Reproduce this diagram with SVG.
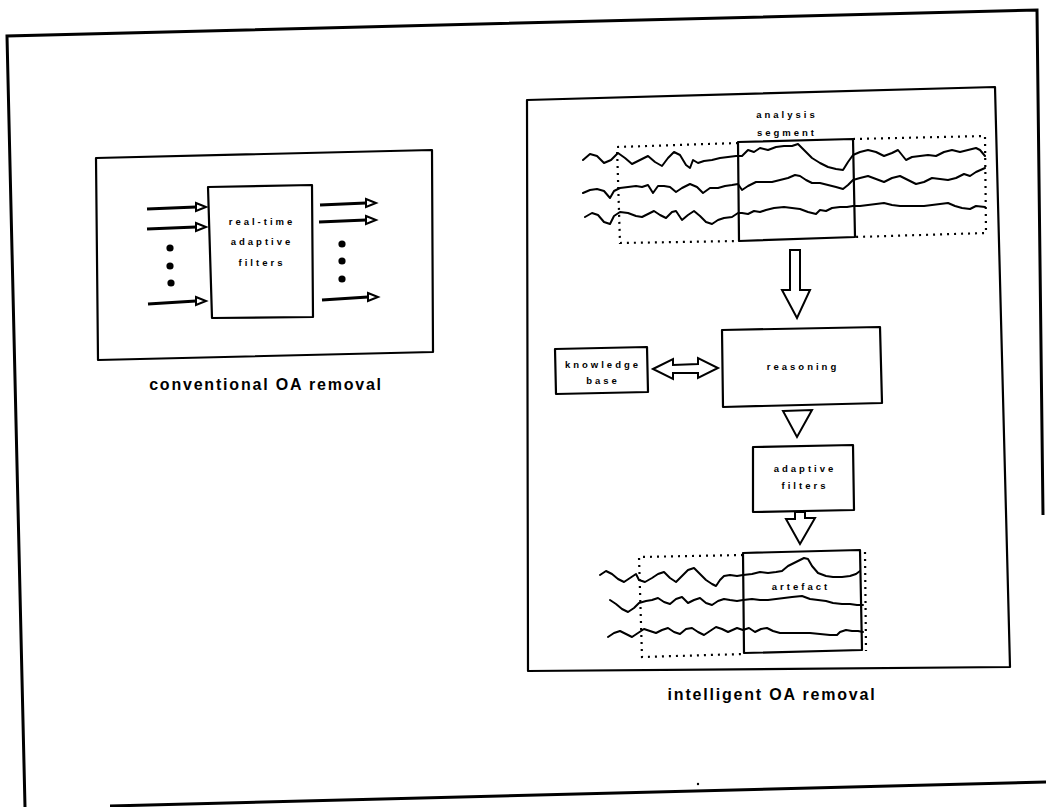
<svg xmlns="http://www.w3.org/2000/svg" width="1046" height="807" viewBox="0 0 1046 807">
<defs>
<style>
.ln{fill:none;stroke:#000;stroke-width:2.2;stroke-linejoin:round;stroke-linecap:round}
.box{fill:#fff;stroke:#000;stroke-width:2.2;stroke-linejoin:round}
.frame{fill:none;stroke:#000;stroke-width:3}
.dot{fill:none;stroke:#000;stroke-width:2.2;stroke-dasharray:2 5}
.wave{fill:none;stroke:#000;stroke-width:2;stroke-linejoin:round;stroke-linecap:round}
.hollow{fill:#fff;stroke:#000;stroke-width:2;stroke-linejoin:miter}
.shaft{fill:none;stroke:#000;stroke-width:3.2}
.t{font-family:"Liberation Sans",Arial,sans-serif;font-weight:bold;font-size:9.5px;letter-spacing:3px;text-anchor:middle;fill:#000}
.cap{font-family:"Liberation Sans",Arial,sans-serif;font-weight:bold;font-size:16px;letter-spacing:1.8px;text-anchor:middle;fill:#000}
</style>
</defs>
<rect width="1046" height="807" fill="#fff"/>

<g id="frame">
<path class="frame" d="M25,807 L7,36 L1037,10 L1043,515"/>
<path class="frame" d="M110,806 L1046,782"/>
</g>

<g id="conventional">
<polygon class="box" points="96,158 432,150 433,352 98,360"/>
<g id="filters-rt">
<polygon class="box" points="208,187 312,185 313,317 212,318"/>
<text class="t" x="262" y="225">real-time</text>
<text class="t" x="262" y="245">adaptive</text>
<text class="t" x="262" y="266">filters</text>
</g>
<g id="dots-left">
<circle cx="170" cy="248" r="3.6"/><circle cx="170" cy="266" r="3.6"/><circle cx="171" cy="283" r="3.6"/>
</g>
<g id="dots-right">
<circle cx="342" cy="244" r="3.6"/><circle cx="342" cy="261" r="3.6"/><circle cx="342" cy="279" r="3.6"/>
</g>
<text class="cap" x="266" y="390">conventional OA removal</text>
</g>

<g id="intelligent">
<polygon class="box" points="527,100 995,87 1010,667 528,671"/>
<g id="analysis">
<text class="t" x="787" y="118">analysis</text>
<text class="t" x="787" y="136">segment</text>
<polygon class="ln" points="738,142 853,139 855,237 739,241"/>
<path class="dot" d="M738,143 L617,147 L620,243 L739,241"/>
<path class="dot" d="M853,139 L985,136 L986,233 L855,237"/>
<polyline class="wave" points="583,160 590,154 597,156 604,163 611,160 618,153 625,158 632,164 640,160 648,156 655,162 662,166 668,158 674,152 680,155 686,165 690,168 693,160 698,163 704,161 712,160 720,158 728,157 736,156 742,156 748,150 754,152 760,148 768,150 776,147 784,146 792,146 798,144 804,150 812,158 820,163 828,167 836,169 843,170 848,162 853,155 860,152 868,150 876,152 884,156 892,153 898,150 902,155 906,160 912,157 920,156 928,155 936,156 944,152 952,150 960,152 968,150 976,148 980,150 985,156"/>
<polyline class="wave" points="583,193 590,190 597,189 604,191 610,198 614,191 620,188 628,187 636,186 642,187 648,185 653,193 658,186 664,186 670,187 676,192 682,188 690,184 697,187 703,193 710,188 718,188 725,186 732,185 738,184 742,190 748,186 756,182 764,182 772,182 780,180 788,178 795,175 800,176 806,180 812,183 820,183 828,185 836,187 843,189 848,185 853,180 860,178 868,176 876,179 884,182 892,178 900,176 908,180 916,184 924,182 932,178 940,179 948,180 956,178 964,174 970,176 976,172 985,168"/>
<polyline class="wave" points="585,217 592,213 598,215 604,222 610,224 614,216 620,212 628,213 636,216 642,217 648,214 654,211 660,215 666,218 672,212 676,211 682,220 688,215 694,211 700,216 706,222 712,224 718,220 724,218 732,217 738,213 742,213 748,214 754,211 760,212 766,210 774,208 784,207 792,208 800,209 808,212 816,214 820,210 826,211 832,208 840,207 847,207 853,206 860,206 868,205 876,204 884,203 892,205 900,206 908,206 916,206 924,206 932,205 940,204 948,203 955,206 962,208 970,209 976,206 985,207"/>
</g>
<g id="knowledge">
<polygon class="box" points="555,349 647,347 648,392 556,394"/>
<text class="t" x="603" y="368">knowledge</text>
<text class="t" x="603" y="384">base</text>
</g>
<g id="reasoning">
<polygon class="box" points="722,330 880,327 882,403 723,407"/>
<text class="t" x="803" y="370">reasoning</text>
</g>
<g id="adaptive">
<polygon class="box" points="753,447 853,445 854,510 753,512"/>
<text class="t" x="805" y="472">adaptive</text>
<text class="t" x="805" y="489">filters</text>
</g>
<g id="result">
<polygon class="ln" points="743,553 860,550 862,650 744,653"/>
<path class="dot" d="M743,555 L639,557 L642,657 L744,654"/>
<path class="dot" d="M865,552 L866,651"/>
<text class="t" x="801" y="590">artefact</text>
<polyline class="wave" points="600,575 606,571 612,574 618,579 624,582 630,578 636,574 639,580 645,582 652,578 658,574 664,572 670,578 676,582 682,576 688,570 694,568 700,574 706,580 712,584 716,586 720,580 724,576 730,575 737,576 743,575 752,574 760,572 768,573 776,572 782,571 788,566 796,562 804,558 808,559 812,566 818,573 826,576 833,577 842,577 850,576 856,574 860,571"/>
<polyline class="wave" points="610,600 616,604 622,609 628,612 634,608 639,603 646,601 652,600 658,598 664,602 670,604 676,599 682,597 688,603 694,600 700,598 706,603 712,605 718,601 724,599 730,600 737,601 743,600 752,599 760,600 768,600 776,599 784,598 792,597 802,596 810,599 818,600 826,601 833,603 842,604 850,604 857,605 863,605"/>
<polyline class="wave" points="608,637 614,633 620,631 626,634 632,637 638,633 644,629 650,631 656,633 662,630 668,628 674,632 680,634 686,629 692,628 698,632 704,635 710,631 716,627 722,629 728,632 737,628 743,630 749,628 755,632 761,629 767,628 773,631 780,633 790,633 800,633 810,633 820,634 830,635 837,635 840,632 846,630 852,631 858,631 863,632"/>
</g>
<text class="cap" x="772" y="700">intelligent OA removal</text>
</g>

<g id="connectors">
<line class="shaft" x1="147" y1="209" x2="196" y2="207"/>
<path class="hollow" d="M196,203 L206,207 L196,211 Z"/>
<line class="shaft" x1="147" y1="229" x2="196" y2="227"/>
<path class="hollow" d="M196,223 L206,227 L196,231 Z"/>
<line class="shaft" x1="148" y1="304" x2="196" y2="301"/>
<path class="hollow" d="M196,297 L206,301 L196,305 Z"/>
<line class="shaft" x1="320" y1="205" x2="366" y2="203"/>
<path class="hollow" d="M366,199 L376,203 L366,207 Z"/>
<line class="shaft" x1="319" y1="222" x2="366" y2="220"/>
<path class="hollow" d="M366,216 L376,220 L366,224 Z"/>
<line class="shaft" x1="322" y1="300" x2="368" y2="297"/>
<path class="hollow" d="M368,293 L378,297 L368,301 Z"/>
<path class="hollow" d="M790,250 L800,250 L800,290 L810,290 L797,318 L782,290 L790,290 Z"/>
<path class="hollow" d="M653,369 L673,359 L673,365 L698,364 L698,358 L718,368 L698,378 L698,373 L673,373 L673,379 Z"/>
<path class="hollow" d="M783,411 L812,410 L797,437 Z"/>
<path class="hollow" d="M795,512 L805,512 L805,518 L815,518 L800,544 L786,519 L795,519 Z"/>
</g>
<circle cx="698" cy="784" r="1.2"/>
</svg>
